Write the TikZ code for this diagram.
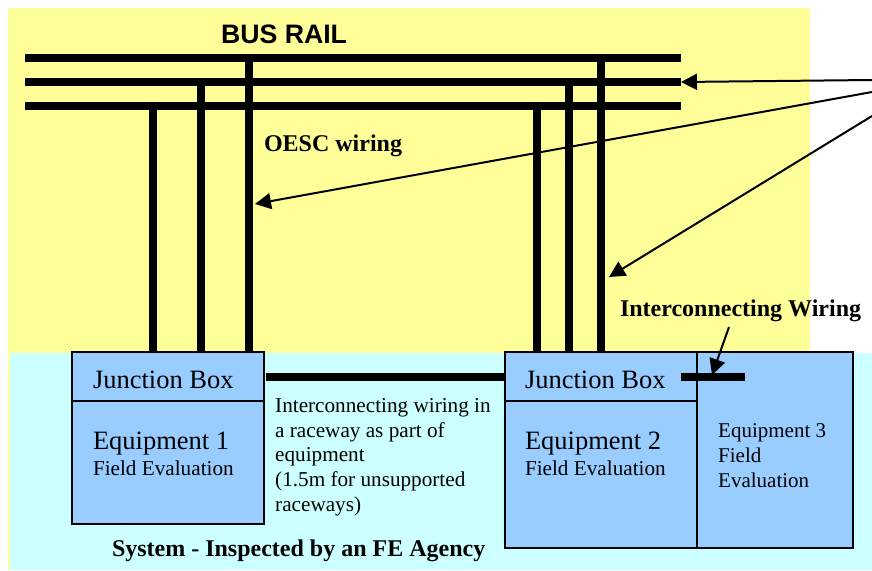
\documentclass[tikz,border=0pt]{standalone}
\usepackage{fontspec}
\setmainfont{Liberation Serif}
\newfontfamily\busfont{Liberation Sans}
\usetikzlibrary{arrows.meta}
\definecolor{railyellow}{HTML}{FFFF99}
\definecolor{syscyan}{HTML}{CCFFFF}
\definecolor{boxblue}{HTML}{99CCFF}
\tikzset{
  x=1pt,y=-1pt,
  wire/.style={line width=8pt,draw=black},
  callout/.style={line width=2pt,draw=black,-{Triangle[length=16pt,width=16pt]}},
  boxpart/.style={draw=black,fill=boxblue,line width=2pt,rectangle,inner sep=0pt,minimum width=#1},
  lab/.style={anchor=base west,inner sep=0pt,outer sep=0pt,text=black},
  big/.style={font=\fontsize{26.5}{30}\selectfont},
  small/.style={font=\fontsize{21.2}{24.8}\selectfont},
  strong/.style={font=\fontsize{24}{28}\selectfont\bfseries},
}
\begin{document}
\begin{tikzpicture}
\useasboundingbox (0,0) rectangle (872,570);
\fill[white] (0,0) rectangle (872,570);
\fill[railyellow] (8,8) rectangle (810,570);
\fill[syscyan] (10,353) rectangle (872,570);
% rails
\coordinate (r1l) at (25,58);  \coordinate (r1r) at (681,58);
\coordinate (r2l) at (25,82);  \coordinate (r2r) at (681,82);
\coordinate (r3l) at (25,106); \coordinate (r3r) at (681,106);
\draw[wire] (r1l) -- (r1r);
\draw[wire] (r2l) -- (r2r);
\draw[wire] (r3l) -- (r3r);
% boxes
\node[boxpart=192pt,minimum height=172pt,anchor=north west] (eq1) at (71.2,351.2) {};
\node[boxpart=192pt,minimum height=49pt,anchor=north west] (jb1) at (71.2,351.2) {};
\node[boxpart=192pt,minimum height=196pt,anchor=north west] (eq2) at (504.2,351.2) {};
\node[boxpart=192pt,minimum height=49pt,anchor=north west] (jb2) at (504.2,351.2) {};
\node[boxpart=156pt,minimum height=196pt,anchor=north west] (eq3) at (696.2,351.2) {};
% OESC wiring
\coordinate (v1) at (153,106); \coordinate (v2) at (201,82); \coordinate (v3) at (249,58);
\coordinate (v4) at (537,106); \coordinate (v5) at (569,82); \coordinate (v6) at (601,58);
\draw[wire] (v1) -- (v1 |- jb1.north);
\draw[wire] (v2) -- (v2 |- jb1.north);
\draw[wire] (v3) -- (v3 |- jb1.north);
\draw[wire] (v4) -- (v4 |- jb2.north);
\draw[wire] (v5) -- (v5 |- jb2.north);
\draw[wire] (v6) -- (v6 |- jb2.north);
% interconnecting wiring
\draw[wire] (jb1.east) ++(1,0) -- (jb2.west);
\coordinate (iw1) at (681,376.5); \coordinate (iw2) at (745,376.5);
\draw[wire] (iw1) -- (iw2);
% texts
\node[lab,font=\busfont\bfseries\fontsize{26.7}{30}\selectfont] (busrail) at (221,43) {BUS RAIL};
\node[lab,strong] (oesc) at (264,151) {OESC wiring};
\node[lab,strong] (iwlabel) at (620,316) {Interconnecting Wiring};
\node[lab,strong] (system) at (112,556) {System - Inspected by an FE Agency};
\node[lab,big] (jbt1) at (93,388) {Junction Box};
\node[lab,big] (jbt2) at (525,388) {Junction Box};
\node[lab,big] (eqt1) at (93,449) {Equipment 1};
\node[lab,big] (eqt2) at (525,449) {Equipment 2};
\node[lab,small] (fe1) at (93,475) {Field Evaluation};
\node[lab,small] (fe2) at (525,475) {Field Evaluation};
\node[anchor=north west,inner sep=0pt,small,align=left] (race) at (275,398) {Interconnecting wiring in\\a raceway as part of\\equipment\\(1.5m for unsupported\\raceways)};
\node[anchor=north west,inner sep=0pt,font=\fontsize{21}{24.8}\selectfont,align=left] (eqt3) at (718,423.5) {Equipment 3\\Field\\Evaluation};
% callouts
\coordinate (c0) at (872,80);  \coordinate (c1) at (872,92);  \coordinate (c2) at (872,116);
\coordinate (t1) at (255,204); \coordinate (t2) at (609,277);
\coordinate (i0) at (729,327); \coordinate (i1) at (712,375);
\draw[callout] (c0) -- (r2r);
\draw[callout] (c1) -- (t1);
\draw[callout] (c2) -- (t2);
\draw[callout] (i0) -- (i1);
\end{tikzpicture}
\end{document}
